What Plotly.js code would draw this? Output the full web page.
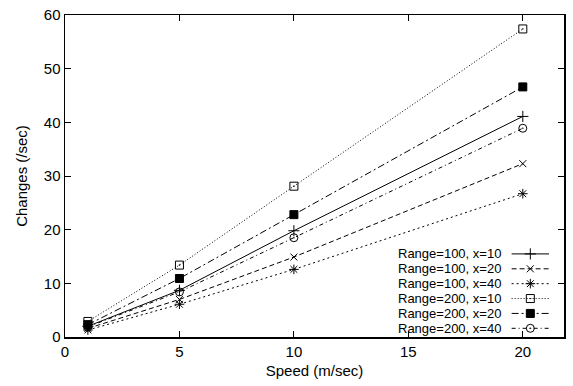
<!DOCTYPE html>
<html>
<head>
<meta charset="utf-8">
<script src="https://cdn.plot.ly/plotly-3.0.1.min.js"></script>
<style>html,body{margin:0;padding:0;background:#fff;}#chart{width:573px;height:386px;}</style>
</head>
<body>
<div id="chart"></div>
<script>
// Data
const speeds = [1, 5, 10, 20];
const seriesNames = ["Range=100, x=10", "Range=100, x=20", "Range=100, x=40",
                     "Range=200, x=10", "Range=200, x=20", "Range=200, x=40"];
const r100x10 = [2.0, 8.7, 19.8, 41.1];
const r100x20 = [1.6, 7.0, 14.9, 32.3];
const r100x40 = [1.3, 6.1, 12.6, 26.7];
const r200x10 = [2.9, 13.4, 28.1, 57.4];
const r200x20 = [2.3, 10.9, 22.8, 46.6];
const r200x40 = [1.9, 8.4, 18.5, 38.9];
const xTicks = [0, 5, 10, 15, 20];
const yTicks = [0, 10, 20, 30, 40, 50, 60];

const seriesValues = [r100x10, r100x20, r100x40, r200x10, r200x20, r200x40];
const styles = [
  {dash: "solid", symbol: "cross-thin-open", size: 8},
  {dash: "5px,3px", symbol: "x-thin-open", size: 7},
  {dash: "2px,3px", symbol: "asterisk-open", size: 8},
  {dash: "1px,2px", symbol: "square-open-dot", size: 8},
  {dash: "7px,3px,2px,3px", symbol: "square", size: 8},
  {dash: "4px,3px,1px,3px", symbol: "circle-open-dot", size: 8}
];

const traces = [];
seriesValues.forEach((vals, i) => {
  const s = styles[i];
  traces.push({
    x: speeds, y: vals, type: "scatter", mode: "lines+markers", name: seriesNames[i],
    line: {color: "#000", width: 1, dash: s.dash},
    marker: {symbol: s.symbol, size: s.size, color: "#000", line: {color: "#000", width: 1}},
    showlegend: false, hoverinfo: "skip"
  });
});

// Custom legend (gnuplot style: text then sample) on hidden helper axes
const legTop = 0.258, legStep = 0.0462;
const annotations = [];
seriesNames.forEach((n, i) => {
  const s = styles[i];
  const yy = legTop - i * legStep;
  traces.push({
    x: [0.895, 0.97], y: [yy, yy], xaxis: "x2", yaxis: "y2", type: "scatter", mode: "lines",
    line: {color: "#000", width: 1, dash: s.dash}, showlegend: false, hoverinfo: "skip"
  });
  traces.push({
    x: [0.9325], y: [yy], xaxis: "x2", yaxis: "y2", type: "scatter", mode: "markers",
    marker: {symbol: s.symbol, size: s.size, color: "#000", line: {color: "#000", width: 1}},
    showlegend: false, hoverinfo: "skip"
  });
  annotations.push({
    xref: "x2", yref: "y2", x: 0.875, y: yy, text: n, showarrow: false,
    xanchor: "right", yanchor: "middle", borderpad: 0,
    font: {family: "Liberation Sans, Arial, sans-serif", size: 13, color: "#000"}
  });
});

const font = {family: "Liberation Sans, Arial, sans-serif", size: 15, color: "#000"};
const layout = {
  width: 573, height: 386,
  margin: {l: 65, r: 9, t: 15, b: 48.5},
  paper_bgcolor: "#fff", plot_bgcolor: "#fff",
  font: font,
  xaxis: {
    range: [0, 21.8], tickvals: xTicks, ticktext: xTicks.map(String),
    ticks: "inside", ticklen: 6, tickwidth: 1, tickcolor: "#000",
    showline: true, linecolor: "#000", linewidth: 1.5, mirror: "ticks",
    showgrid: false, zeroline: false, tickfont: font,
    title: {text: "Speed (m/sec)", font: font, standoff: 7}
  },
  yaxis: {
    range: [0, 60], tickvals: yTicks, ticktext: yTicks.map(String),
    ticks: "inside", ticklen: 6, tickwidth: 1, tickcolor: "#000",
    showline: true, linecolor: "#000", linewidth: 1.5, mirror: "ticks",
    showgrid: false, zeroline: false, tickfont: font,
    title: {text: "Changes (/sec)", font: font, standoff: 12}
  },
  xaxis2: {range: [0, 1], overlaying: "x", visible: false, fixedrange: true},
  yaxis2: {range: [0, 1], overlaying: "y", visible: false, fixedrange: true},
  annotations: annotations,
  showlegend: false
};

Plotly.newPlot("chart", traces, layout, {displayModeBar: false, staticPlot: true});
</script>
</body>
</html>
